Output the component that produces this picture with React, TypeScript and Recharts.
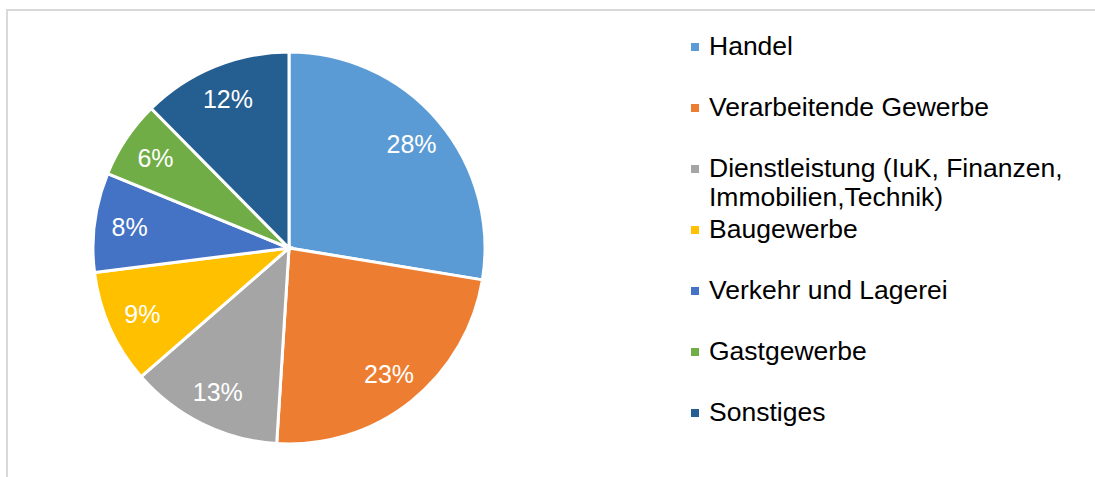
import { Cell, Legend, Pie, PieChart } from 'recharts';

const SECTORS = [
  'Handel',
  'Verarbeitende Gewerbe',
  'Dienstleistung (IuK, Finanzen, Immobilien,Technik)',
  'Baugewerbe',
  'Verkehr und Lagerei',
  'Gastgewerbe',
  'Sonstiges',
];
// shares in percent
const SHARES = [27.6, 23.4, 12.6, 9.4, 8.2, 6.4, 12.4];
const COLORS = ['#5B9BD5', '#ED7D31', '#A5A5A5', '#FFC000', '#4472C4', '#70AD47', '#255E91'];

const FONT = 'Arial, "Liberation Sans", sans-serif';
const RAD = Math.PI / 180;

const data = SECTORS.map((name, i) => ({ name, value: SHARES[i] }));

function renderLabel(props: any) {
  const { cx, cy, midAngle, outerRadius, percent } = props;
  const r = outerRadius * 0.82;
  const x = cx + r * Math.cos(-midAngle * RAD);
  const y = cy + r * Math.sin(-midAngle * RAD);
  return (
    <text
      x={x}
      y={y}
      fill="#fff"
      textAnchor="middle"
      dominantBaseline="central"
      style={{ fontFamily: FONT, fontSize: 25 }}
    >
      {`${Math.round(percent * 100)}%`}
    </text>
  );
}

function renderLegend() {
  return (
    <div style={{ fontFamily: FONT, fontSize: 26.5, color: '#000' }}>
      {SECTORS.map((name, i) => (
        <div key={name} style={{ height: 61, display: 'flex', alignItems: 'flex-start' }}>
          <span
            style={{
              display: 'inline-block',
              width: 8,
              height: 8,
              background: COLORS[i],
              marginTop: 11,
              marginRight: 10,
              flex: 'none',
            }}
          />
          <span style={{ lineHeight: '29px', width: 380, whiteSpace: 'normal' }}>{name}</span>
        </div>
      ))}
    </div>
  );
}

export default function App() {
  return (
    <div style={{ position: 'absolute', left: 0, top: 0, width: 1095, height: 477, background: '#fff', overflow: 'hidden' }}>
      <div
        style={{
          position: 'absolute',
          left: 6,
          top: 9,
          width: 1200,
          height: 600,
          borderTop: '2px solid #D9D9D9',
          borderLeft: '2px solid #D9D9D9',
        }}
      />
      <div style={{ position: 'absolute', left: 0, top: 0 }}>
        <PieChart width={1095} height={477} margin={{ top: 0, right: 0, bottom: 0, left: 0 }}>
          <Pie
            data={data}
            dataKey="value"
            nameKey="name"
            cx={289}
            cy={248}
            outerRadius={196}
            startAngle={90}
            endAngle={-270}
            stroke="#fff"
            strokeWidth={3}
            label={renderLabel}
            labelLine={false}
            isAnimationActive={false}
          >
            {data.map((d, i) => (
              <Cell key={d.name} fill={COLORS[i]} />
            ))}
          </Pie>
          <Legend
            content={renderLegend}
            wrapperStyle={{ left: 691, top: 32, width: 400 }}
          />
        </PieChart>
      </div>
    </div>
  );
}
